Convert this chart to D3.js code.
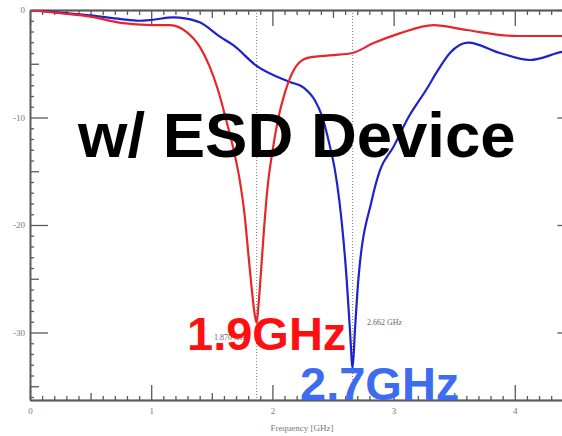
<!DOCTYPE html>
<html>
<head>
<meta charset="utf-8">
<script src="https://cdn.jsdelivr.net/npm/d3@7"></script>
<style>
  html, body { margin: 0; padding: 0; background: #fff; }
  svg { display: block; }
</style>
</head>
<body>
<svg id="chart" width="562" height="436"></svg>
<script>
// Return loss traces, frequency in GHz, level in dB
const redFreq = [0, 0.25, 0.5, 0.75, 1.0, 1.155, 1.293, 1.40, 1.48, 1.55, 1.62, 1.68, 1.73, 1.77, 1.80, 1.83, 1.855, 1.87, 1.885, 1.905, 1.93, 1.96, 2.0, 2.05, 2.10, 2.15, 2.22, 2.31, 2.5, 2.66, 2.83, 3.05, 3.33, 3.6, 4.02, 4.5];
const redDb   = [0, -0.3, -0.62, -1.2, -1.4, -1.4, -2.05, -3.4, -5.2, -7.4, -10.3, -13.0, -15.8, -19.0, -22.5, -26.0, -28.4, -29.1, -27.5, -24.5, -20.5, -16.5, -13.2, -10.0, -7.8, -6.2, -4.9, -4.4, -4.2, -4.0, -3.1, -2.17, -1.4, -1.86, -2.42, -2.42];

const blueFreq = [0, 0.25, 0.5, 0.75, 0.9, 1.0, 1.18, 1.29, 1.40, 1.57, 1.68, 1.87, 2.145, 2.255, 2.35, 2.407, 2.475, 2.516, 2.552, 2.613, 2.64, 2.662, 2.681, 2.709, 2.82, 2.888, 2.998, 3.119, 3.273, 3.366, 3.465, 3.616, 3.878, 4.125, 4.39, 4.5];
const blueDb   = [0, -0.25, -0.5, -0.85, -1.0, -0.93, -0.68, -0.8, -1.15, -2.5, -3.3, -5.2, -6.7, -7.2, -8.4, -9.8, -12.7, -14.9, -17.7, -25.1, -29.8, -33.3, -29.8, -25.1, -17.7, -14.9, -12.75, -10.05, -7.35, -5.6, -4.0, -3.04, -4.0, -4.65, -3.9, -3.7];

// Axis ticks
const xMajorTicks = [0, 1, 2, 3, 4];
const yMajorTicks = [0, -10, -20, -30];

// Markers at the two resonances
const markerFreq  = [1.87, 2.662];
const markerLabel = ["1.870 GHz", "2.662 GHz"];

// Headline and resonance call-outs
const titleText = "w/ ESD Device";
const calloutText = ["1.9GHz", "2.7GHz"];
const xAxisTitle = "Frequency [GHz]";

const svg = d3.select("#chart");
const W = 562, H = 436;
const plotLeft = 30, plotTop = 10, plotBottom = 400;
const pxPerGHz = 121.2;

const x = d3.scaleLinear().domain([0, 4.5]).range([plotLeft, plotLeft + 4.5 * pxPerGHz]);
const y = d3.scaleLinear().domain([0, -36.28]).range([plotTop, plotBottom]);

const axisColor = "#5a5a5a";
const labelColor = "#777";
const serif = "'Liberation Serif', 'DejaVu Serif', serif";

svg.append("rect").attr("width", W).attr("height", H).attr("fill", "#fff");

// tick sets
const xMinor = d3.range(0, 45).map(i => i / 10).filter(v => Math.abs(v * 2 - Math.round(v * 2)) > 1e-6);
const xMid = d3.range(0, 9).map(i => i + 0.5).filter(v => v <= 4.5);
const yMinor = d3.range(0, 37).map(i => -i).filter(v => v % 5 !== 0);
const yMid = [-5, -15, -25, -35];

function styleAxis(g) {
  g.select(".domain").attr("stroke", axisColor).attr("stroke-width", 1.4);
  g.selectAll(".tick line").attr("stroke", axisColor).attr("stroke-width", 1.3);
  g.selectAll(".tick text").attr("fill", labelColor).attr("font-family", serif).attr("font-size", 9);
}

function addAxis(axisFn, scale, vals, len, transform, format) {
  const ax = axisFn(scale).tickValues(vals).tickSize(-len).tickSizeOuter(0)
    .tickFormat(format || (() => ""));
  const g = svg.append("g").attr("transform", transform).call(ax);
  styleAxis(g);
  return g;
}

// bottom axis (ticks point inward)
addAxis(d3.axisBottom, x, xMinor, 4, `translate(0,${plotBottom})`);
addAxis(d3.axisBottom, x, xMid, 7, `translate(0,${plotBottom})`);
const gxb = addAxis(d3.axisBottom, x, xMajorTicks, 15, `translate(0,${plotBottom})`, d3.format("d"));
gxb.selectAll(".tick text").attr("y", 8).attr("dy", "0.71em");

// top axis
addAxis(d3.axisTop, x, xMinor, 5, `translate(0,${plotTop})`);
addAxis(d3.axisTop, x, xMid, 8, `translate(0,${plotTop})`);
addAxis(d3.axisTop, x, xMajorTicks, 16, `translate(0,${plotTop})`);

// left axis
addAxis(d3.axisLeft, y, yMinor, 4, `translate(${plotLeft},0)`);
addAxis(d3.axisLeft, y, yMid, 9, `translate(${plotLeft},0)`);
const gyl = addAxis(d3.axisLeft, y, yMajorTicks, 18, `translate(${plotLeft},0)`, d => d === 0 ? "0" : "-" + Math.abs(d));
gyl.selectAll(".tick text").attr("x", -5);

// right axis (sits just past the window edge)
const plotRight = x(4.5);
addAxis(d3.axisRight, y, yMinor, 4, `translate(${plotRight},0)`);
addAxis(d3.axisRight, y, yMid, 9, `translate(${plotRight},0)`);
addAxis(d3.axisRight, y, yMajorTicks, 18, `translate(${plotRight},0)`);

// x axis title
svg.append("text")
  .attr("x", 302).attr("y", 431)
  .attr("text-anchor", "middle")
  .attr("font-family", serif).attr("font-size", 9)
  .attr("fill", labelColor)
  .text(xAxisTitle);

// marker lines
svg.append("g").selectAll("line").data(markerFreq).join("line")
  .attr("x1", d => x(d)).attr("x2", d => x(d))
  .attr("y1", plotTop).attr("y2", plotBottom)
  .attr("stroke", "#777").attr("stroke-width", 1)
  .attr("stroke-dasharray", "1,2");

// traces
svg.append("clipPath").attr("id", "plotClip")
  .append("rect").attr("x", plotLeft).attr("y", plotTop).attr("width", plotRight - plotLeft).attr("height", plotBottom - plotTop);

const line = d3.line().x(d => x(d[0])).y(d => y(d[1])).curve(d3.curveMonotoneX);
const plot = svg.append("g").attr("clip-path", "url(#plotClip)");

plot.append("path")
  .datum(blueFreq.map((f, i) => [f, blueDb[i]]))
  .attr("d", line)
  .attr("fill", "none").attr("stroke", "#1e22cc").attr("stroke-width", 2.2)
  .attr("stroke-linejoin", "round");

plot.append("path")
  .datum(redFreq.map((f, i) => [f, redDb[i]]))
  .attr("d", line)
  .attr("fill", "none").attr("stroke", "#e8262a").attr("stroke-width", 2.2)
  .attr("stroke-linejoin", "round");

// marker readouts
svg.append("text").attr("x", 214).attr("y", 340)
  .attr("font-family", serif).attr("font-size", 8).attr("fill", "#666")
  .text(markerLabel[0]);
svg.append("text").attr("x", 367).attr("y", 325)
  .attr("font-family", serif).attr("font-size", 8).attr("fill", "#666")
  .text(markerLabel[1]);

// headline
const sans = "'Liberation Sans', Arial, sans-serif";
svg.append("text")
  .attr("x", 78).attr("y", 157)
  .attr("font-family", sans).attr("font-weight", "bold").attr("font-size", 63.5)
  .attr("fill", "#000")
  .text(titleText);

// resonance call-outs
svg.append("text")
  .attr("x", 187).attr("y", 350)
  .attr("font-family", sans).attr("font-weight", "bold").attr("font-size", 47)
  .attr("fill", "#ff1010")
  .text(calloutText[0]);
svg.append("text")
  .attr("x", 300).attr("y", 400)
  .attr("font-family", sans).attr("font-weight", "bold").attr("font-size", 47)
  .attr("fill", "#3d6cf0")
  .text(calloutText[1]);
</script>
</body>
</html>
